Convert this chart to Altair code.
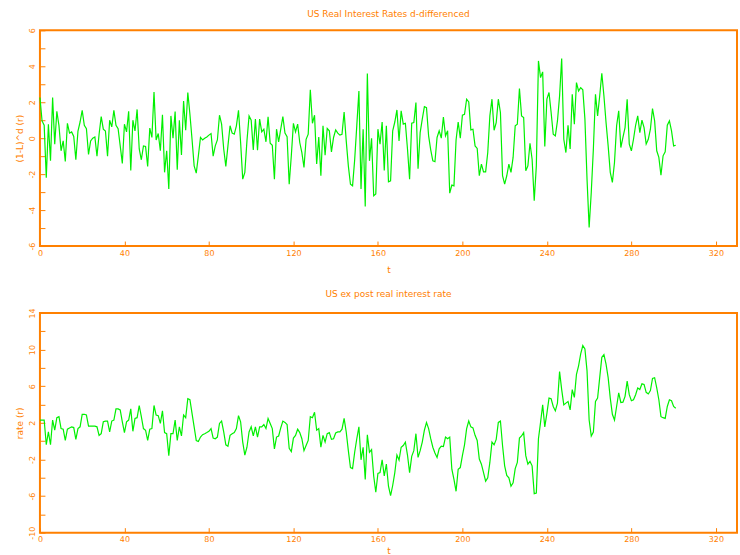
import altair as alt
import pandas as pd

diff_vals = [
    2.26, 0.96, 0.72, -2.2, 0.78, -1.26, 2.26, -0.33, 1.5, 0.7,
    -0.7, -0.15, -1.3, 0.83, 0.28, 0.35, 0.1, -1.2, 0.4, 0.9,
    1.55, 0.72, 0.53, -0.9, -0.15, 0, 0.07, -1.0, 0.22, 1.2,
    0.5, 0.4, -1.0, 1.0, 0.63, 1.55, 0.72, 0.53, -0.43, -1.4,
    0.78, 0.35, 1.5, -1.8, 1.0, 0.4, 1.6, -0.6, -1.2, -0.43,
    -0.46, -1.57, 0.56, 0.04, 2.57, -0.1, 0.26, -0.7, 1.3, -1.9,
    -0.7, -2.83, 1.24, 0, 1.48, -1.76, 1.0, -0.94, 2.07, 0.44,
    2.54, 1.33, -0.06, -1.54, -1.94, -0.98, 0.04, -0.1, 0, 0.07,
    0.17, 0.26, -1.0, -0.43, -0.1, 1.28, 0.78, -0.6, -1.57, -0.43,
    0.69, 0.28, 0.22, 0.69, 1.55, -0.24, -2.28, -1.9, -0.15, 1.24,
    1.0, -0.65, 1.06,
    -0.67, 1.06, 0.35, 0.5, -0.2, 1.19, -0.28,
    -0.39, -2.28, 0.5, -0.2, 0.5, 1.2, 0.28, 0.09, -2.56, -0.98,
    0.83, 0.35, 0.78, -0.24, -0.8, -1.63, -0.06, 0.22, 2.69, 0.83,
    1.28, -1.44, 0.07, -2.09, 0.69, -0.94, 0.54, 0.41, -0.76, 0.04,
    0.46, 0.28, 0.17, 0.22, 1.46, -0.15, -1.54, -2.56, -2.65, -1.2,
    0.7, 2.63, -2.83, 0.5, -3.8, 3.6, -1.26,
    0, -3.2, -3.1,
    0.5, -0.33, 0.9, -1.8, 0.69, -2.43, -2.37, 0.41, 0.9, 1.57,
    -0.15, 1.52, 0.78, 0.83, -0.6, -2.28, 0.83, 0.87, 1.98, -1.7,
    0.31, 1.06, 1.76, 1.7, 0.13, -0.65, -1.26, -1.31, 0.04, 0.41,
    0, 1.17, 0.13, 0.41, -3.06, -2.61, -2.65, -0.1, 0.9, 0,
    1.28, 1.33, 2.17, 2.02, 0.46, 0.5, -0.43, -0.57, -2.09,
    -1.44,
    -1.87, -1.87, -0.8, 1.24, 2.17, 0.44, 0.87, 2.17, 1.43, -2.09,
    -2.56, -2.09, -1.44, -1.9, -1.07, 0.69, 0.78, 2.76, 1.24, 1.15,
    -1.81, -1.54, -0.28, -1.17, -3.48, -1.54, 4.3, 3.37, 3.69, -0.46,
    2.17, 2.54, 1.43, 0.22, 0.13, 0.96, 2.35, 4.43, -0.06, -0.8,
    0.72, -0.6, 2.44, 0.78, 3.09, 2.63, 2.81, 2.69, 1.06,
    -2.28,
    -4.96, -3.02, -0.6, 2.44, 1.24, 2.35, 3.61, 2.35, 0.87, -0.43,
    -1.9, -2.46, -1.35, 0.69, 1.52, -0.52, 0.04, 0.59, 2.17, -0.33,
    -0.7, -0.06, 0.72, 1.24, 0.31, 1.0, 0.59, -0.33, -0.06, 0.5,
    1.65, 0.96, -0.7, -1.07, -2.06, -0.98, -0.76, 0.72, 0.96, 0.41,
    -0.43, -0.39,
]

rate_vals = [
    2.3, 2.3, 2.3, -0.4, 1.0, -0.4, 2.3, 1.19, 2.56, 2.67,
    1.37, 1.3, 0.07, 1.3, 1.44, 1.56, 1.48, 0.19, 1.37, 1.56,
    2.93, 2.93, 2.85, 1.63, 1.63, 1.63, 1.63, 1.56, 0.63, 0.81,
    2.11, 2.19, 2.19, 1.0, 2.19, 2.3, 3.52, 3.52, 3.41, 2.11,
    0.93, 2.11, 2.3, 3.52, 1.07, 2.48, 2.56, 3.89, 2.67, 1.37,
    1.19, 0.07, 1.3, 1.37, 3.89, 2.85, 2.78, 1.93, 3.3, 0.93,
    0.81, -1.59, 0.81, 0.81, 2.3, 0.07, 1.56, 0.56, 2.85, 2.56,
    4.63, 4.52, 3.04, 1.56, 0.07, -0.04, 0.44, 0.7, 0.81, 0.93,
    1.07, 1.37, 0.33, 0.26, 0.44, 1.93, 2.19, 1.0, -0.41, -0.56,
    0.63, 0.81, 0.93, 1.37, 2.78, 2.11, -0.11, -1.52, -0.67, 1.0,
    1.56, 0.56, 1.56,
    0.44, 1.56, 1.56, 1.81, 1.37, 2.48, 1.93,
    1.37, -0.85, 0.44, 0.56, 1.44, 2.19, 2.04, 1.81, -0.78, -1.15,
    0.33, 0.63, 1.3, 0.93, 0.26, -1.04, -0.48, 0.07, 2.67, 2.56,
    3.15, 1.19, 1.37, -0.67, 0.63, -0.11, 0.81, 0.93, 0.19, 0.26,
    0.89, 1.0, 1.0, 1.3, 2.48, 1.0, -1.04, -2.89, -3.0, -1.22,
    0.26, 1.56, -2.04, -0.67, -4.19, 0.7, -1.22,
    -0.93, -3.81, -5.59,
    -3.52, -3.44, -2.04, -3.81, -2.52, -4.93, -5.96, -4.85, -3.44, -1.52,
    -2.07, -0.67, -0.48, -0.11, -1.52, -3.44, -1.67, -1.04, 0.81, -1.78,
    -1.04, -0.11, 1.19, 2.04, 1.37, 0.26, -0.67, -1.3, -1.78, -0.85,
    -0.56, -0.59, 0.44, 0.26, 0.44, -3.07, -4.19, -5.48, -3.07, -2.89,
    -1.59, -0.41, 1.37, 2.19, 1.56, 1.44, 0.63, 0.07, -1.96,
    -2.52,
    -3.44, -4.37, -4.0, -2.33, -0.11, -0.41, 0.19, 2.04, 2.19, -0.48,
    -2.7, -3.74, -4.0, -4.93, -4.56, -3.0, -2.33, 0.33, 0.56, 0.93,
    -1.59, -2.52, -2.22, -2.7, -5.74, -5.67, 0.26, 2.04, 3.96, 1.56,
    3.04, 4.7, 4.63, 3.78, 3.3, 4.15, 7.59, 5.63, 3.96, 4.15,
    4.33, 3.41, 5.63, 4.78, 7.3, 8.22, 9.52, 10.44, 10.07,
    7.67,
    2.3, 0.56, 1.0, 4.33, 4.7, 6.93, 9.15, 9.44, 8.41, 6.93,
    4.7, 2.93, 2.3, 3.78, 5.26, 4.22, 4.26, 4.89, 6.56, 5.07,
    4.41, 4.52, 5.07, 5.81, 5.63, 6.26, 6.19, 5.33, 5.15, 5.52,
    6.85, 6.93, 5.81, 4.52, 2.67, 2.56, 2.48, 3.78, 4.52, 4.41,
    3.78, 3.59,
]

x_ticks = [0, 40, 80, 120, 160, 200, 240, 280, 320]
top_y_ticks = [-6, -5, -4, -3, -2, -1, 0, 1, 2, 3, 4, 5, 6]
bot_y_ticks = [-10, -8, -6, -4, -2, 0, 2, 4, 6, 8, 10, 12, 14]

ORANGE = "#ff8000"
GREEN = "#00f000"
FONT = "DejaVu Sans"

df_top = pd.DataFrame({"t": list(range(len(diff_vals))), "v": diff_vals})
df_bot = pd.DataFrame({"t": list(range(len(rate_vals))), "v": rate_vals})


def x_enc(title_pad):
    return alt.X(
        "t:Q",
        scale=alt.Scale(domain=[0, 330], nice=False, zero=False),
        axis=alt.Axis(
            values=x_ticks, title="t", labelFlush=False, offset=-5,
            tickSize=5, domain=False, grid=False, labelPadding=3,
            titlePadding=title_pad,
            labelExpr="'' + datum.value",
        ),
    )


def panel(df, title, ytitle, ydom, yticks, lab_expr, h, title_pad):
    return alt.Chart(df).mark_line(color=GREEN, strokeWidth=1.2).encode(
        x=x_enc(title_pad),
        y=alt.Y(
            "v:Q",
            scale=alt.Scale(domain=ydom, nice=False, zero=False),
            axis=alt.Axis(
                values=yticks, title=ytitle, labelAngle=270, offset=-5,
                tickSize=5, domain=False, grid=False, labelPadding=3,
                titlePadding=4, labelExpr=lab_expr, labelFlush=False,
            ),
        ),
    ).properties(
        width=698, height=h,
        title=alt.TitleParams(title, fontSize=9, font=FONT, color=ORANGE,
                              fontWeight="normal", offset=9),
    )


top = panel(df_top, "US Real Interest Rates d-differenced", "(1-L)^d (r)",
            [-6, 6], top_y_ticks,
            "datum.value % 2 == 0 ? '' + datum.value : ''", 216, 8)
bot = panel(df_bot, "US ex post real interest rate", "rate (r)",
            [-10, 14], bot_y_ticks,
            "(datum.value + 10) % 4 == 0 ? '' + datum.value : ''", 220, 3)

chart = alt.vconcat(top, bot, spacing=13).properties(
    padding={"left": 15, "top": 8, "right": 2, "bottom": 0},
    background="white",
).configure_view(
    stroke=ORANGE, strokeWidth=2
).configure_axis(
    labelColor=ORANGE, titleColor=ORANGE, tickColor=ORANGE,
    labelFont=FONT, titleFont=FONT, labelFontSize=8, titleFontSize=9,
    titleFontWeight="normal", tickWidth=1,
)

chart.save("out.html", embed_options={"renderer": "svg", "actions": False})
